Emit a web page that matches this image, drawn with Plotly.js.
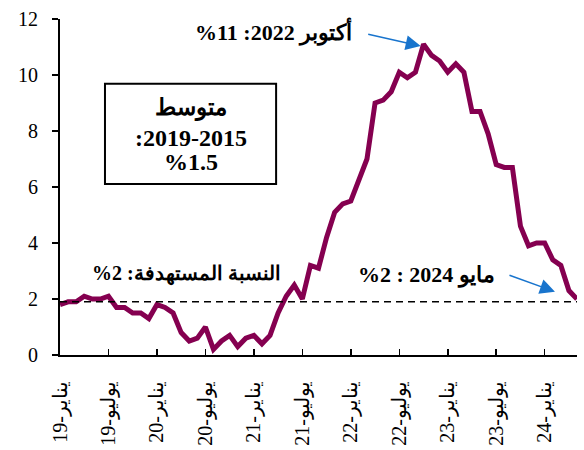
<!DOCTYPE html>
<html>
<head>
<meta charset="utf-8">
<script src="https://cdn.plot.ly/plotly-3.0.1.min.js"></script>
<style>html,body{margin:0;padding:0;background:#fff;}</style>
</head>
<body>
<div id="chart" style="width:584px;height:450px;"></div>
<script>
// Monthly inflation, January 2019 – May 2024 (percent)
const inflation2019 = [1.8, 1.9, 1.9, 2.1, 2.0, 2.0, 2.1, 1.7, 1.7, 1.5, 1.5, 1.3];
const inflation2020 = [1.8, 1.7, 1.5, 0.8, 0.5, 0.6, 1.0, 0.2, 0.5, 0.7, 0.3, 0.6];
const inflation2021 = [0.7, 0.4, 0.7, 1.5, 2.1, 2.5, 2.0, 3.2, 3.1, 4.2, 5.1, 5.4];
const inflation2022 = [5.5, 6.2, 7.0, 9.0, 9.1, 9.4, 10.1, 9.9, 10.1, 11.1, 10.7, 10.5];
const inflation2023 = [10.1, 10.4, 10.1, 8.7, 8.7, 7.9, 6.8, 6.7, 6.7, 4.6, 3.9, 4.0];
const inflation2024 = [4.0, 3.4, 3.2, 2.3, 2.0];
const targetLevel = 1.9;

const tickMonthIndex = [0, 6, 12, 18, 24, 30, 36, 42, 48, 54, 60];
const tickLabels = ["يناير-19", "يوليو-19", "يناير-20", "يوليو-20", "يناير-21", "يوليو-21",
                    "يناير-22", "يوليو-22", "يناير-23", "يوليو-23", "يناير-24"];

const RLE = "\u202B", PDF = "\u202C";
const rtl = s => RLE + s + PDF;

const values = [].concat(inflation2019, inflation2020, inflation2021, inflation2022, inflation2023, inflation2024);
const months = values.map((_, i) => i);

const serif = "'Liberation Serif', 'Times New Roman', 'DejaVu Serif', serif";

const traces = [
  {
    x: months, y: values, type: "scatter", mode: "lines",
    line: {color: "#850050", width: 5, shape: "linear"},
    hoverinfo: "skip"
  },
  {
    x: [0, months[months.length - 1]], y: [targetLevel, targetLevel],
    type: "scatter", mode: "lines",
    line: {color: "#000", width: 1.5, dash: "7px,5px"},
    hoverinfo: "skip"
  }
];

const note = (x, y, t, size) => ({xref: "paper", yref: "paper", x: x, y: y, xanchor: "center", yanchor: "middle",
                           text: "<b>" + t + "</b>", showarrow: false,
                           font: {family: serif, size: size, color: "#000"}});

const layout = {
  width: 584, height: 450,
  margin: {l: 60, r: 7, t: 19, b: 95},
  paper_bgcolor: "#fff", plot_bgcolor: "#fff",
  showlegend: false,
  xaxis: {
    range: [0, 64], tickmode: "array", tickvals: tickMonthIndex,
    ticktext: tickLabels.map(rtl), tickangle: -90,
    ticks: "inside", ticklen: 6, tickwidth: 1.5, tickcolor: "#000",
    showline: true, linewidth: 2, linecolor: "#000",
    showgrid: false, zeroline: false, ticklabelstandoff: 16,
    tickfont: {family: serif, size: 20, color: "#000"}
  },
  yaxis: {
    range: [0, 12], dtick: 2, tick0: 0,
    ticks: "outside", ticklen: 6, tickwidth: 1.5, tickcolor: "#000",
    showline: true, linewidth: 2, linecolor: "#000",
    showgrid: false, zeroline: false, ticklabelstandoff: 10,
    tickfont: {family: serif, size: 20, color: "#000"}
  },
  shapes: [
    {type: "rect", xref: "paper", yref: "paper",
     x0: 0.087, x1: 0.418, y0: 0.509, y1: 0.807,
     line: {color: "#000", width: 2}, fillcolor: "rgba(0,0,0,0)"}
  ],
  annotations: [
    note(0.412, 0.963, rtl("أكتوبر 2022: 11%"), 22),
    note(0.253, 0.733, "متوسط", 23),
    note(0.253, 0.647, ":2019-2015", 24),
    note(0.253, 0.575, "%1.5", 24),
    note(0.244, 0.241, rtl("النسبة المستهدفة: 2%"), 20),
    note(0.708, 0.238, rtl("مايو 2024 : 2%"), 22),
    {xref: "paper", yref: "paper", x: 0.6977, y: 0.9196, text: "", showarrow: true,
     ax: -54, ay: -12, arrowhead: 2, arrowsize: 2, arrowwidth: 1.5, arrowcolor: "#1874CD", standoff: 0},
    {xref: "paper", yref: "paper", x: 0.9574, y: 0.1884, text: "", showarrow: true,
     ax: -47, ay: -17, arrowhead: 2, arrowsize: 2, arrowwidth: 1.5, arrowcolor: "#1874CD", standoff: 0}
  ]
};

Plotly.newPlot("chart", traces, layout, {staticPlot: true, displayModeBar: false});
</script>
</body>
</html>
